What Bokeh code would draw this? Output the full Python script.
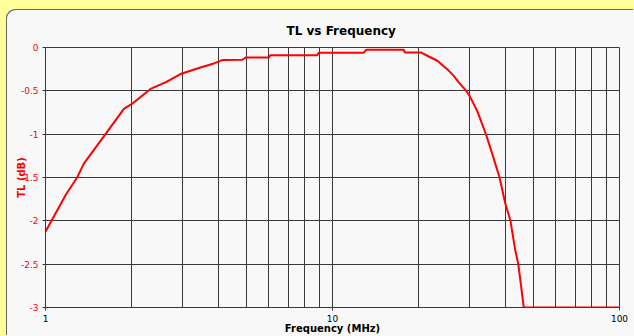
from bokeh.plotting import figure
from bokeh.models import FixedTicker, Range1d
from bokeh.embed import file_html
from bokeh.resources import INLINE

# ---- data ----
freq_mhz = [1.0, 1.174, 1.29, 1.36, 1.618, 1.875, 2.0, 2.322, 2.619, 2.953,
            3.467, 3.86, 4.13, 4.85, 4.98, 6.0, 6.08, 8.84, 8.95, 12.85,
            13.1, 17.7, 17.9, 20.3, 21.4, 23.2, 25.1, 26.4, 27.5, 29.4,
            30.0, 31.9, 34.2, 36.0, 38.2, 40.0, 41.7, 43.3, 44.4, 46.4, 100.0]
tl_db = [-2.126, -1.705, -1.498, -1.34, -1.0, -0.708, -0.651, -0.478, -0.402, -0.306,
         -0.23, -0.184, -0.145, -0.141, -0.115, -0.115, -0.088, -0.088, -0.061, -0.061,
         -0.026, -0.026, -0.057, -0.057, -0.095, -0.153, -0.25, -0.325, -0.40, -0.51,
         -0.555, -0.728, -0.995, -1.225, -1.50, -1.80, -2.0, -2.335, -2.5, -3.0, -3.0]

x_ticks = [1, 10, 100]
x_tick_labels = ["1", "10", "100"]
x_minor_ticks = [2, 3, 4, 5, 6, 7, 8, 9, 20, 30, 40, 50, 60, 70, 80, 90]
y_ticks = [0, -0.5, -1, -1.5, -2, -2.5, -3]
y_tick_labels = ["0", "-0.5", "-1", "-1.5", "-2", "-2.5", "-3"]

PANEL = "#F8F8F8"
PAGE = "#FFFF99"
GRID = "#3a3a3a"
RED = "#FF0000"
FONT = "DejaVu Sans"

p = figure(width=627, height=326, x_axis_type="log",
           x_range=Range1d(1, 100), y_range=Range1d(-3, 0),
           output_backend="svg", toolbar_location=None,
           title="TL vs Frequency",
           min_border_left=38, min_border_right=15, min_border_top=37, min_border_bottom=29,
           background_fill_color=PANEL, border_fill_color=PANEL)

# chart panel sitting on the yellow page, rounded top-left corner
p.styles = {"margin-left": "7px", "margin-top": "10px",
            "border-top-left-radius": "9px", "overflow": "hidden",
            "box-shadow": "-1px -1px 0 0 #666666"}

p.title.text_font = FONT
p.title.text_font_size = "12px"
p.title.text_font_style = "bold"
p.title.text_color = "black"
p.title.align = "left"
p.title.offset = 241
p.title.standoff = 20

xt = FixedTicker(ticks=x_ticks, minor_ticks=x_minor_ticks)
yt = FixedTicker(ticks=y_ticks, minor_ticks=[])
p.xaxis.ticker = xt
p.yaxis.ticker = yt
p.xgrid.ticker = xt
p.ygrid.ticker = yt
p.xaxis.major_label_overrides = dict(zip(x_ticks, x_tick_labels))
p.yaxis.major_label_overrides = dict(zip(y_ticks, y_tick_labels))

for ax in (p.xaxis[0], p.yaxis[0]):
    ax.axis_line_color = GRID
    ax.major_tick_line_color = GRID
    ax.major_tick_out = 3
    ax.major_tick_in = 0
    ax.minor_tick_line_color = None
    ax.major_label_text_font = FONT
    ax.major_label_text_font_size = "9px"
    ax.axis_label_text_font = FONT
    ax.axis_label_text_font_size = "10px"
    ax.axis_label_text_font_style = "bold"

p.xaxis.major_label_text_color = "black"
p.xaxis.major_label_standoff = 3
p.xaxis.axis_label = "Frequency (MHz)"
p.xaxis.axis_label_text_color = "black"
p.xaxis.axis_label_standoff = -2

p.yaxis.major_label_text_color = RED
p.yaxis.major_label_standoff = 4
p.yaxis.axis_label = "TL (dB)"
p.yaxis.axis_label_text_color = RED
p.yaxis.axis_label_standoff = -9

p.xgrid.grid_line_color = GRID
p.xgrid.minor_grid_line_color = GRID
p.ygrid.grid_line_color = GRID
p.outline_line_color = GRID

p.line(freq_mhz, tl_db, line_color=RED, line_width=2)

html = file_html(p, INLINE, title="TL vs Frequency")
page_css = ("<style>html, body { overflow: hidden; background: "
            "linear-gradient(to right, " + PAGE + " 7px, transparent 7px), "
            "linear-gradient(to bottom, " + PAGE + " 10px, " + PANEL + " 10px) !important; }</style>")
html = html.replace("</head>", page_css + "</head>", 1)
open("out.html", "w").write(html)
